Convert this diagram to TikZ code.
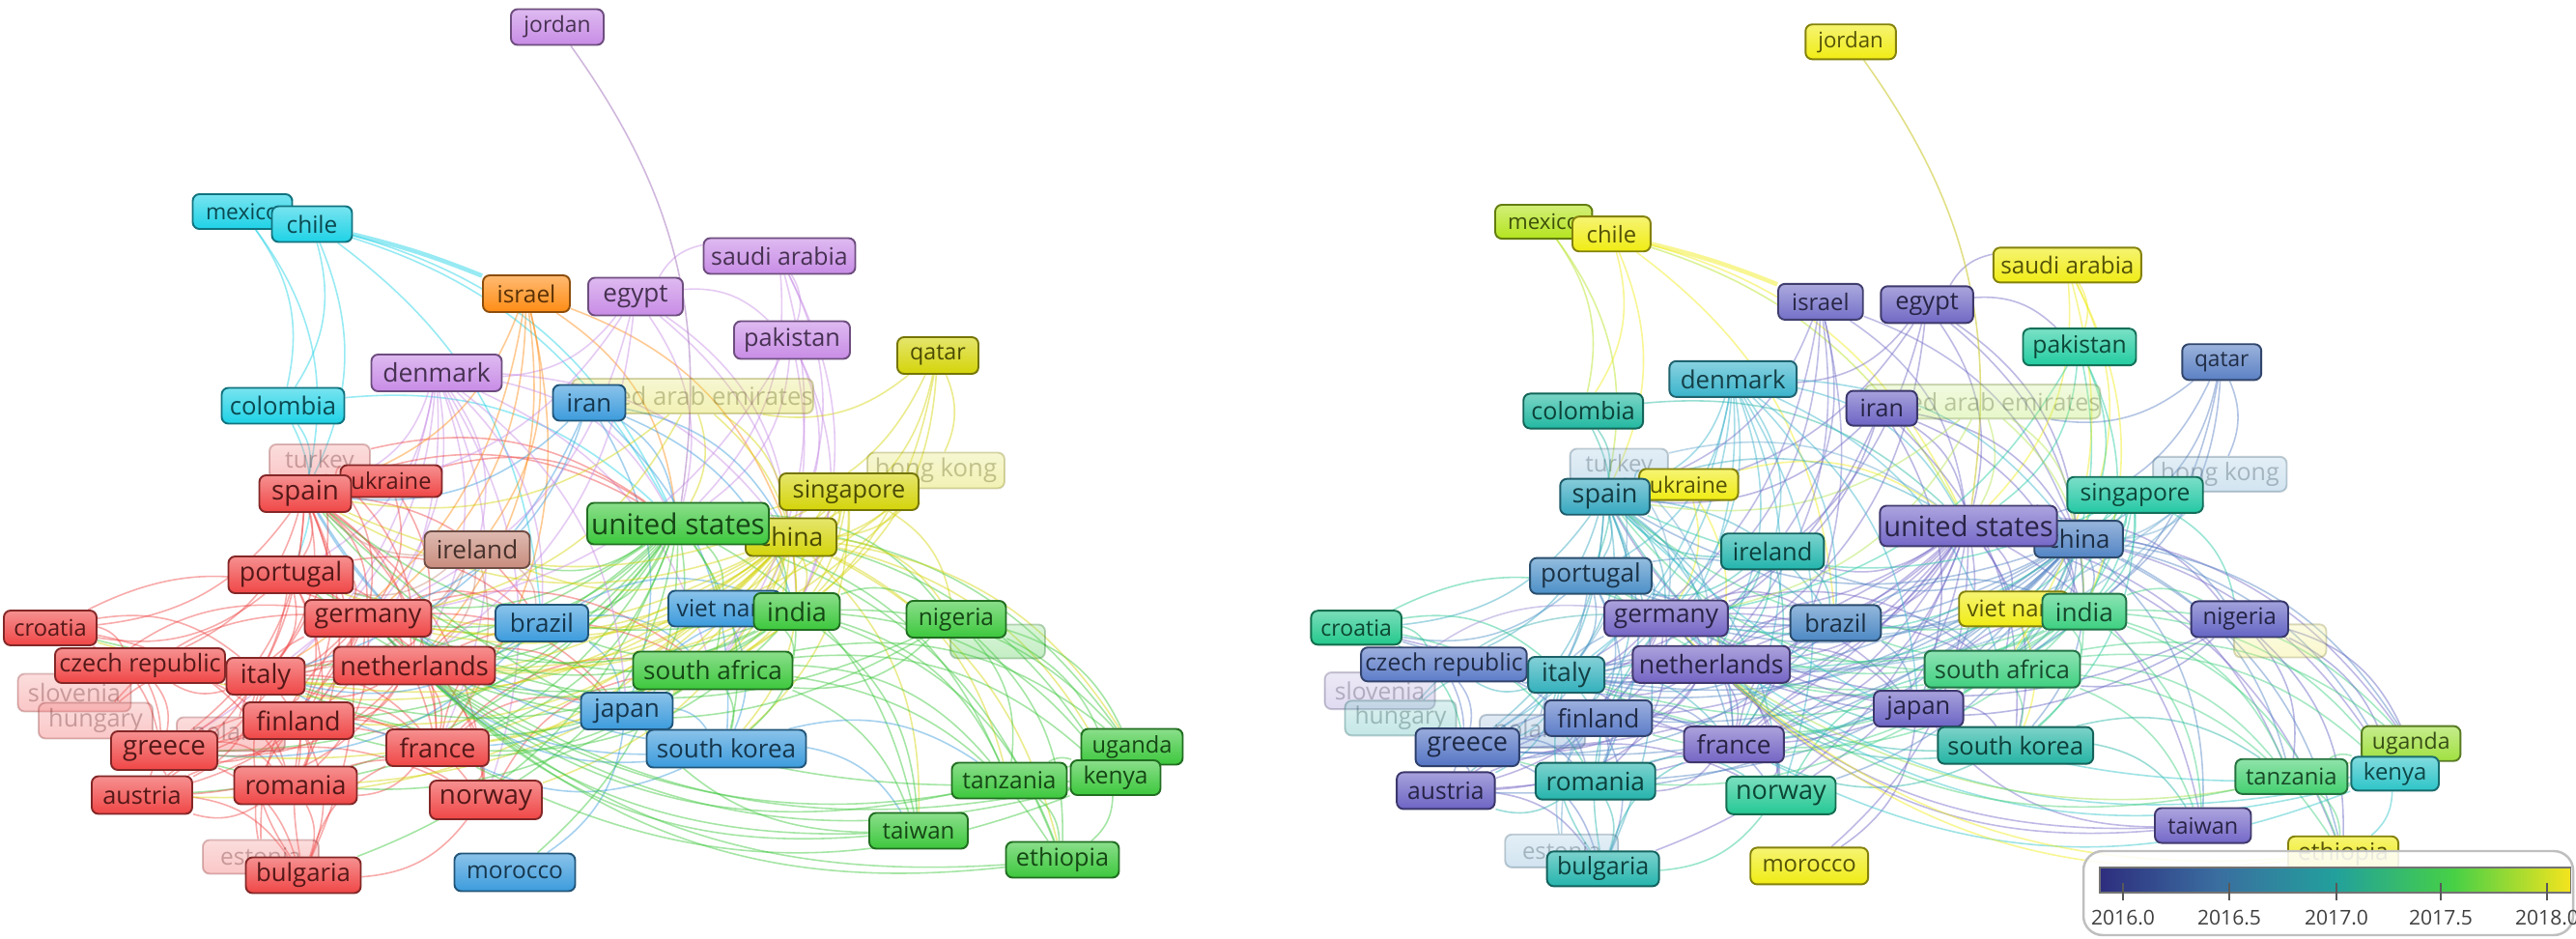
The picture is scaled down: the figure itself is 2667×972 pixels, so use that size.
\documentclass[tikz,border=0pt]{standalone}
\usepackage{fontspec}
\setmainfont{Open Sans}
\pgfdeclarelayer{bg}
\pgfdeclarelayer{edges}
\pgfdeclarelayer{faded}
\pgfsetlayers{bg,edges,faded,main}
\colorlet{cur}{black}
% ---------- left panel colours (clusters)
\definecolor{cRed}{HTML}{F04646}
\definecolor{cGreen}{HTML}{3CC83C}
\definecolor{cBlue}{HTML}{3C9BDC}
\definecolor{cYellow}{HTML}{D4D40A}
\definecolor{cPurple}{HTML}{C88CE6}
\definecolor{cCyan}{HTML}{1ED2E6}
\definecolor{cOrange}{HTML}{FF8C14}
\definecolor{cRosy}{HTML}{C88C7D}
\colorlet{Lspain}{cRed}\colorlet{Lukraine}{cRed}\colorlet{Lportugal}{cRed}
\colorlet{Lgermany}{cRed}\colorlet{Lcroatia}{cRed}\colorlet{Lczech}{cRed}
\colorlet{Litaly}{cRed}\colorlet{Lnetherlands}{cRed}\colorlet{Lfinland}{cRed}
\colorlet{Lgreece}{cRed}\colorlet{Lfrance}{cRed}\colorlet{Laustria}{cRed}
\colorlet{Lromania}{cRed}\colorlet{Lnorway}{cRed}\colorlet{Lbulgaria}{cRed}
\colorlet{Lturkey}{cRed}\colorlet{Lslovenia}{cRed}\colorlet{Lhungary}{cRed}
\colorlet{Lpoland}{cRed}\colorlet{Lestonia}{cRed}
\colorlet{Lus}{cGreen}\colorlet{Lindia}{cGreen}\colorlet{Lnigeria}{cGreen}
\colorlet{Lsouthafrica}{cGreen}\colorlet{Luganda}{cGreen}\colorlet{Ltanzania}{cGreen}
\colorlet{Lkenya}{cGreen}\colorlet{Ltaiwan}{cGreen}\colorlet{Lethiopia}{cGreen}
\colorlet{Lghost}{cGreen}
\colorlet{Liran}{cBlue}\colorlet{Lbrazil}{cBlue}\colorlet{Ljapan}{cBlue}
\colorlet{Lviet}{cBlue}\colorlet{Lsouthkorea}{cBlue}\colorlet{Lmorocco}{cBlue}
\colorlet{Lsingapore}{cYellow}\colorlet{Lchina}{cYellow}\colorlet{Lqatar}{cYellow}
\colorlet{Luae}{cYellow}\colorlet{Lhongkong}{cYellow}
\colorlet{Ljordan}{cPurple}\colorlet{Legypt}{cPurple}\colorlet{Lsaudi}{cPurple}
\colorlet{Lpakistan}{cPurple}\colorlet{Ldenmark}{cPurple}
\colorlet{Lmexico}{cCyan}\colorlet{Lchile}{cCyan}\colorlet{Lcolombia}{cCyan}
\colorlet{Lisrael}{cOrange}\colorlet{Lireland}{cRosy}
% ---------- right panel colours (average year)
\definecolor{Rjordan}{HTML}{F0EC14}\definecolor{Rmexico}{HTML}{B4E41E}
\definecolor{Rchile}{HTML}{F0EC14}\definecolor{Risrael}{HTML}{7470C8}
\definecolor{Regypt}{HTML}{7068C4}\definecolor{Rsaudi}{HTML}{F0EC14}
\definecolor{Rpakistan}{HTML}{22CCA0}\definecolor{Rqatar}{HTML}{5A80C4}
\definecolor{Rdenmark}{HTML}{3AB4CC}\definecolor{Rcolombia}{HTML}{22B8A0}
\definecolor{Riran}{HTML}{6C64C4}\definecolor{Rukraine}{HTML}{F0EC14}
\definecolor{Rspain}{HTML}{36A8C0}\definecolor{Rsingapore}{HTML}{24C8A4}
\definecolor{Rchina}{HTML}{5284C4}\definecolor{Rus}{HTML}{7468C8}
\definecolor{Rireland}{HTML}{22B4AC}\definecolor{Rportugal}{HTML}{4C90C8}
\definecolor{Rviet}{HTML}{F0EC14}\definecolor{Rindia}{HTML}{3CD080}
\definecolor{Rnigeria}{HTML}{6464C4}\definecolor{Rgermany}{HTML}{7464C4}
\definecolor{Rbrazil}{HTML}{4C88C4}\definecolor{Rcroatia}{HTML}{22C88C}
\definecolor{Rczech}{HTML}{5C7CC8}\definecolor{Ritaly}{HTML}{32B0BC}
\definecolor{Rnetherlands}{HTML}{7464C4}\definecolor{Rsouthafrica}{HTML}{40D080}
\definecolor{Rfinland}{HTML}{5C7CC8}\definecolor{Rjapan}{HTML}{6C64C4}
\definecolor{Rgreece}{HTML}{5474C4}\definecolor{Rfrance}{HTML}{7464C4}
\definecolor{Rsouthkorea}{HTML}{24B4A4}\definecolor{Ruganda}{HTML}{A0E040}
\definecolor{Rtanzania}{HTML}{44D070}\definecolor{Rkenya}{HTML}{2CC4C8}
\definecolor{Rromania}{HTML}{24B4AC}\definecolor{Raustria}{HTML}{6C64C4}
\definecolor{Rnorway}{HTML}{24C894}\definecolor{Rtaiwan}{HTML}{7468C8}
\definecolor{Rbulgaria}{HTML}{24B4AC}\definecolor{Rmorocco}{HTML}{F0EC14}
\definecolor{Rethiopia}{HTML}{F0EC14}
\definecolor{Ruae}{HTML}{B4E650}\definecolor{Rhongkong}{HTML}{6AA8D0}
\definecolor{Rturkey}{HTML}{6AA8D0}\definecolor{Rslovenia}{HTML}{9A88D0}
\definecolor{Rhungary}{HTML}{40B0B0}\definecolor{Rpoland}{HTML}{5A90C8}
\definecolor{Restonia}{HTML}{6AA8D0}\definecolor{Rghost}{HTML}{F0EC60}
% legend colours
\definecolor{v0}{HTML}{2E2E7E}\definecolor{v1}{HTML}{3A6EA0}
\definecolor{v2}{HTML}{22A09C}\definecolor{v3}{HTML}{46D046}
\definecolor{v4}{HTML}{F4E41E}
\pgfdeclarehorizontalshading{yearbar}{100bp}{color(0bp)=(v0); color(25bp)=(v0);
  color(37.5bp)=(v1); color(50bp)=(v2); color(62.5bp)=(v3); color(75bp)=(v4); color(100bp)=(v4)}
% ---------- data
\def\solidlist{jordan/577/28/96/37/5.6/jordan, mexico/251/219/103/36/5.6/mexico,
 chile/323/232/83/37/6.0/chile, israel/545/304/90/38/6.0/israel,
 egypt/658/307/98/39/6.4/egypt, saudi/807/265/157/37/6.1/saudi arabia,
 pakistan/820/352/120/39/6.2/pakistan, qatar/971/368/84/38/5.7/qatar,
 denmark/452/386/135/38/6.5/denmark, colombia/293/420/127/37/6.3/colombia,
 iran/610/417/75/37/6.3/iran, ukraine/405/498/105/33/5.8/ukraine,
 spain/316/511/95/38/6.8/spain, singapore/879/509/144/38/6.2/singapore,
 china/819/556/94/39/6.5/china, us/702/542/188/43/7.3/united states,
 ireland/494/569/109/38/6.4/ireland, portugal/301/595/129/38/6.6/portugal,
 viet/750/630/116/37/6.0/viet nam, india/825/633/89/38/6.6/india,
 nigeria/990/641/103/38/6.0/nigeria, germany/381/640/131/38/6.6/germany,
 brazil/561/645/96/38/6.4/brazil, croatia/52/650/96/36/5.8/croatia,
 czech/145/689/176/36/6.2/czech republic, italy/275/700/81/38/6.7/italy,
 netherlands/429/689/167/39/6.7/netherlands, southafrica/738/694/165/39/6.4/south africa,
 finland/309/746/114/38/6.6/finland, japan/649/736/95/38/6.4/japan,
 greece/170/777/110/40/6.8/greece, france/453/774/106/38/6.6/france,
 southkorea/752/775/165/39/6.4/south korea, uganda/1172/773/105/37/5.8/uganda,
 tanzania/1045/808/119/37/6.0/tanzania, kenya/1155/805/93/36/6.0/kenya,
 romania/306/813/127/39/6.6/romania, austria/147/823/104/39/6.2/austria,
 norway/503/828/116/40/6.8/norway, taiwan/951/860/102/37/5.9/taiwan,
 bulgaria/314/906/119/37/6.3/bulgaria, morocco/533/903/125/39/6.0/morocco,
 ethiopia/1100/890/117/37/6.2/ethiopia}
\def\fadedlist{uae/717/410/242/36/6.3/united arab emirates,
 hongkong/969/487/142/37/6.3/hong kong, turkey/331/478/104/36/6.0/turkey,
 slovenia/77/717/117/39/6.2/slovenia, hungary/99/746/118/37/6.2/hungary,
 poland/239/760/112/35/6.2/poland, estonia/270/887/120/35/6.0/estonia,
 ghost/1033/664/98/35/6.0/{}}
\def\edgelist{mexico/chile, mexico/colombia, mexico/spain, mexico/us,
 chile/colombia, chile/spain, chile/us, chile/brazil, colombia/spain, colombia/us,
 colombia/portugal, israel/us, israel/germany, israel/netherlands, israel/china,
 israel/france, egypt/saudi, egypt/us, egypt/pakistan, egypt/denmark, egypt/china,
 egypt/india, saudi/pakistan, saudi/us, saudi/china, pakistan/china, pakistan/us,
 pakistan/india, pakistan/southafrica, qatar/uae, qatar/us, qatar/china,
 qatar/hongkong, qatar/india, uae/us, uae/china, hongkong/us, hongkong/singapore,
 hongkong/china, denmark/us, denmark/germany, denmark/netherlands, denmark/spain,
 denmark/italy, denmark/finland, denmark/france, denmark/norway, denmark/portugal,
 denmark/greece, denmark/southafrica, denmark/china, denmark/ireland, iran/us,
 iran/china, iran/japan, iran/southkorea, iran/india, spain/us, spain/portugal,
 spain/italy, spain/germany, spain/netherlands, spain/greece, spain/finland,
 spain/france, spain/croatia, spain/czech, spain/romania, spain/bulgaria,
 spain/brazil, spain/ukraine, spain/norway, spain/austria, ukraine/us,
 ukraine/germany, ukraine/netherlands, turkey/us, turkey/spain, singapore/us,
 singapore/china, singapore/india, singapore/nigeria, singapore/southkorea,
 us/china, us/ireland, us/portugal, us/germany, us/brazil, us/italy,
 us/netherlands, us/finland, us/france, us/greece, us/norway, us/romania,
 us/austria, us/czech, us/croatia, us/japan, us/southkorea, us/southafrica,
 us/india, us/viet, us/nigeria, us/taiwan, us/kenya, us/uganda, us/tanzania,
 us/ethiopia, us/bulgaria, us/morocco, china/india, china/nigeria,
 china/southafrica, china/southkorea, china/taiwan, china/japan, china/kenya,
 china/tanzania, china/uganda, china/viet, china/ethiopia, ireland/germany,
 ireland/netherlands, ireland/portugal, ireland/france, ireland/spain,
 ireland/brazil, ireland/italy, portugal/italy, portugal/germany,
 portugal/netherlands, portugal/greece, portugal/romania, portugal/croatia,
 portugal/finland, portugal/brazil, portugal/france, germany/netherlands,
 germany/italy, germany/france, germany/finland, germany/austria, germany/greece,
 germany/czech, germany/norway, germany/romania, germany/brazil,
 germany/southafrica, germany/japan, netherlands/italy, netherlands/france,
 netherlands/finland, netherlands/norway, netherlands/greece, netherlands/austria,
 netherlands/brazil, netherlands/southafrica, netherlands/japan, italy/greece,
 italy/finland, italy/france, italy/romania, italy/austria, italy/czech,
 croatia/czech, croatia/italy, croatia/greece, croatia/romania, croatia/germany,
 czech/greece, czech/romania, czech/austria, finland/greece, finland/france,
 finland/norway, finland/romania, finland/bulgaria, greece/austria,
 greece/romania, greece/france, greece/bulgaria, france/norway, france/romania,
 france/brazil, france/japan, france/southafrica, romania/austria,
 romania/bulgaria, romania/norway, austria/norway, austria/bulgaria,
 austria/france, norway/bulgaria, norway/southafrica, bulgaria/germany,
 bulgaria/italy, bulgaria/france, brazil/japan, brazil/southafrica, brazil/india,
 japan/southkorea, japan/southafrica, japan/india, japan/morocco, viet/india,
 viet/southkorea, india/nigeria, india/southafrica, india/tanzania, india/kenya,
 india/uganda, india/ethiopia, india/taiwan, india/southkorea,
 nigeria/southafrica, nigeria/kenya, nigeria/uganda, nigeria/tanzania,
 nigeria/ethiopia, southafrica/kenya, southafrica/tanzania, southafrica/uganda,
 southafrica/ethiopia, southafrica/taiwan, southafrica/southkorea,
 southkorea/taiwan, southkorea/tanzania, uganda/kenya, uganda/tanzania,
 tanzania/kenya, kenya/ethiopia, tanzania/ethiopia, taiwan/japan,
 china/germany, china/netherlands, china/france, china/spain, china/portugal,
 china/italy, china/brazil, china/norway, china/finland, china/greece,
 china/austria, china/ireland, china/croatia, china/czech, china/romania,
 singapore/germany, singapore/netherlands, singapore/spain, singapore/france,
 singapore/japan, singapore/southafrica, hongkong/germany, hongkong/netherlands,
 uae/germany, uae/spain, uae/india, india/germany, india/netherlands,
 india/france, india/spain, india/italy, india/portugal, india/brazil,
 southafrica/spain, southafrica/portugal, southafrica/italy, southafrica/greece,
 southafrica/finland, southkorea/germany, southkorea/netherlands,
 southkorea/france, southkorea/spain, japan/spain, japan/italy, brazil/italy,
 brazil/greece, nigeria/germany, nigeria/netherlands, taiwan/germany,
 taiwan/netherlands, kenya/germany, kenya/netherlands, kenya/france, kenya/spain,
 uganda/netherlands, tanzania/netherlands, ethiopia/netherlands, ethiopia/germany,
 iran/germany, iran/spain, iran/italy, israel/spain, israel/italy, israel/ireland,
 egypt/germany, egypt/netherlands, egypt/spain, saudi/india, saudi/southafrica,
 pakistan/germany, qatar/southafrica, denmark/japan, denmark/brazil,
 turkey/germany, turkey/italy, turkey/netherlands, slovenia/italy,
 slovenia/germany, hungary/germany, hungary/italy, poland/germany,
 poland/netherlands, estonia/finland, estonia/germany}
% ---------- drawing macros
\newcommand\netnodes[2]{%
  \foreach \n/\x/\y/\w/\h/\f/\lab in #2 {%
    \edef\cn{#1\n}\colorlet{cur}{\cn}%
    \pgfmathsetmacro\fs{\f*1.16}%
    \node[vbox, minimum width=\w*0.1mm, minimum height=\h*0.1mm] (#1\n) at (\x,\y)
      {\fontsize{\fs}{\fs}\selectfont\lab};
  }}
\newcommand\netedges[1]{%
  \foreach \ea/\eb in \edgelist {%
    \edef\cn{#1\ea}\colorlet{cur}{\cn}%
    \draw[edgeline] (#1\ea) to[bend left=24] (#1\eb);
  }}
\newcommand\onepanel[1]{%
  \netnodes{#1}{\solidlist}
  \begin{pgfonlayer}{faded}
    \begin{scope}[opacity=0.3]
      \netnodes{#1}{\fadedlist}
    \end{scope}
  \end{pgfonlayer}
  \begin{pgfonlayer}{edges}
    \netedges{#1}
    \colorlet{cur}{#1chile}
    \draw[edgeline, line width=1.3pt] (#1chile) to[bend left=4] (#1israel);
    \colorlet{cur}{#1jordan!70!gray}
    \draw[edgeline, draw opacity=0.6] (#1jordan) to[bend left=22] (#1us);
  \end{pgfonlayer}}
\tikzset{
  vbox/.style={rectangle, rounded corners=0.7mm, inner sep=0pt,
    draw=cur!55!black, line width=0.55pt,
    top color=cur!60!white, bottom color=cur, text=cur!35!black},
  edgeline/.style={draw=cur, draw opacity=0.46, line width=0.45pt},
  ticklab/.style={font=\fontsize{6}{6}\selectfont, text=black!75, inner sep=0pt}
}
\begin{document}
\begin{tikzpicture}[x=0.1mm, y=-0.1mm]
\useasboundingbox (0,0) rectangle (2667,972);
\begin{pgfonlayer}{bg}
\fill[white] (0,0) rectangle (2667,972);
\end{pgfonlayer}
% left panel: clusters
\onepanel{L}
% right panel: overlay by year
\begin{scope}[shift={(1353.5,16)}, scale=0.975, transform shape]
  \onepanel{R}
\end{scope}
% legend
\fill[white, fill opacity=0.88, rounded corners=2mm] (2157,881) rectangle (2664,968);
\draw[black!25, rounded corners=2mm, line width=0.7pt] (2157,881) rectangle (2664,968);
\shade[shading=yearbar] (2174,898) rectangle (2661,924);
\draw[black!55, line width=0.3pt] (2174,898) rectangle (2661,924);
\foreach \v/\xx [count=\i] in {2016.0/2198, 2016.5/2308, 2017.0/2419, 2017.5/2527, 2018.0/2637} {
  \draw[black!65, line width=0.6pt] (\xx,914) -- (\xx,932);
  \node[ticklab] (tick\i) at (\xx,950) {\v};
}
\end{tikzpicture}
\end{document}
